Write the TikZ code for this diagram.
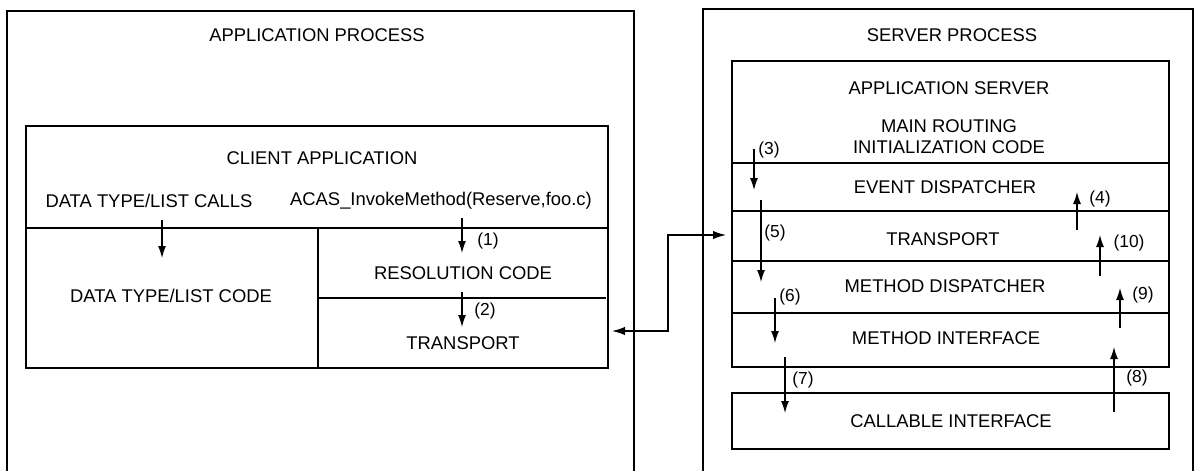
\documentclass[tikz,border=0pt]{standalone}
\usepackage{fontspec}
\setmainfont{Liberation Sans}
\usetikzlibrary{arrows.meta}
\begin{document}
\begin{tikzpicture}[x=0.5pt,y=-0.5pt,
  outer/.style={line width=1.4pt},
  innerbox/.style={line width=0.7pt},
  lbl/.style={inner sep=0pt, font=\fontsize{9.2}{10.5}\selectfont},
  num/.style={inner sep=0pt, font=\fontsize{8.7}{10}\selectfont},
  flow/.style={line width=0.6pt, -{Latex[length=6pt,width=4pt]}},
  link/.style={line width=0.7pt, {Latex[length=6.5pt,width=4.2pt]}-{Latex[length=6.5pt,width=4.2pt]}},
]
\useasboundingbox (0,0) rectangle (1195,471);
% outer process boxes (open at bottom)
\draw[outer] (7,471) -- (7,11) -- (634,11) -- (634,471);
\draw[outer] (703,471) -- (703,9) -- (1193,9) -- (1193,471);
\node[lbl] (appproc) at (317,35) {APPLICATION PROCESS};
\node[lbl] (srvproc) at (952,35) {SERVER PROCESS};

% client application block
\draw[innerbox] (26,126) rectangle (608,368);
\draw[innerbox] (26,228) -- (608,228);
\draw[innerbox] (318,228) -- (318,368);
\draw[innerbox] (318,298) -- (606,298);
\node[lbl] (clientapp) at (322,158) {CLIENT APPLICATION};
\node[lbl] (dtcalls) at (149,201) {DATA TYPE/LIST CALLS};
\node[lbl] (acas) at (441,201) {ACAS\_InvokeMethod(Reserve,foo.c)};
\node[lbl] (dtcode) at (171,296) {DATA TYPE/LIST CODE};
\node[lbl] (rescode) at (463,273) {RESOLUTION CODE};
\node[lbl] (ctrans) at (463,343) {TRANSPORT};

\coordinate (d0) at (162,220); \coordinate (d1) at (162,258);
\draw[flow] (d0) -- (d1);
\coordinate (c1a) at (462,218); \coordinate (c1b) at (462,253);
\draw[flow] (c1a) -- (c1b);
\node[num] (n1) at (488,241) {(1)};
\coordinate (c2a) at (462,292); \coordinate (c2b) at (462,327);
\draw[flow] (c2a) -- (c2b);
\node[num] (n2) at (485,311) {(2)};

% link between processes
\coordinate (lt) at (612,331);
\coordinate (bend) at (668,331);
\coordinate (rt) at (726,235);
\draw[link] (lt) -- (bend) |- (rt);

% server block
\draw[innerbox] (732,61) rectangle (1169,367);
\foreach \yy in {163,211,261,313} \draw[innerbox] (732,\yy) -- (1169,\yy);
\draw[innerbox] (732,393) rectangle (1169,449);
\node[lbl] (appsrv) at (949,88) {APPLICATION SERVER};
\node[lbl, align=center] (mainrt) at (949,137) {MAIN ROUTING\\INITIALIZATION CODE};
\node[lbl] (evdisp) at (945,187) {EVENT DISPATCHER};
\node[lbl] (strans) at (943,239) {TRANSPORT};
\node[lbl] (mdisp) at (945,286) {METHOD DISPATCHER};
\node[lbl] (mintf) at (946,338) {METHOD INTERFACE};
\node[lbl] (callif) at (951,421) {CALLABLE INTERFACE};

% server flow arrows (down)
\coordinate (s3a) at (754,149); \coordinate (s3b) at (754,190);
\draw[flow] (s3a) -- (s3b); \node[num] (n3) at (769,150) {(3)};
\coordinate (s5a) at (761,200); \coordinate (s5b) at (761,282);
\draw[flow] (s5a) -- (s5b); \node[num] (n5) at (775,233) {(5)};
\coordinate (s6a) at (775,298); \coordinate (s6b) at (775,343);
\draw[flow] (s6a) -- (s6b); \node[num] (n6) at (790,297) {(6)};
\coordinate (s7a) at (785,357); \coordinate (s7b) at (785,413);
\draw[flow] (s7a) -- (s7b); \node[num] (n7) at (803,380) {(7)};
% server flow arrows (up)
\coordinate (s8a) at (1114,412); \coordinate (s8b) at (1114,347);
\draw[flow] (s8a) -- (s8b); \node[num] (n8) at (1137,378) {(8)};
\coordinate (s9a) at (1120,328); \coordinate (s9b) at (1120,288);
\draw[flow] (s9a) -- (s9b); \node[num] (n9) at (1143,295) {(9)};
\coordinate (s10a) at (1100,276); \coordinate (s10b) at (1100,235);
\draw[flow] (s10a) -- (s10b); \node[num] (n10) at (1129,243) {(10)};
\coordinate (s4a) at (1077,230); \coordinate (s4b) at (1077,192);
\draw[flow] (s4a) -- (s4b); \node[num] (n4) at (1100,199) {(4)};
\end{tikzpicture}
\end{document}
